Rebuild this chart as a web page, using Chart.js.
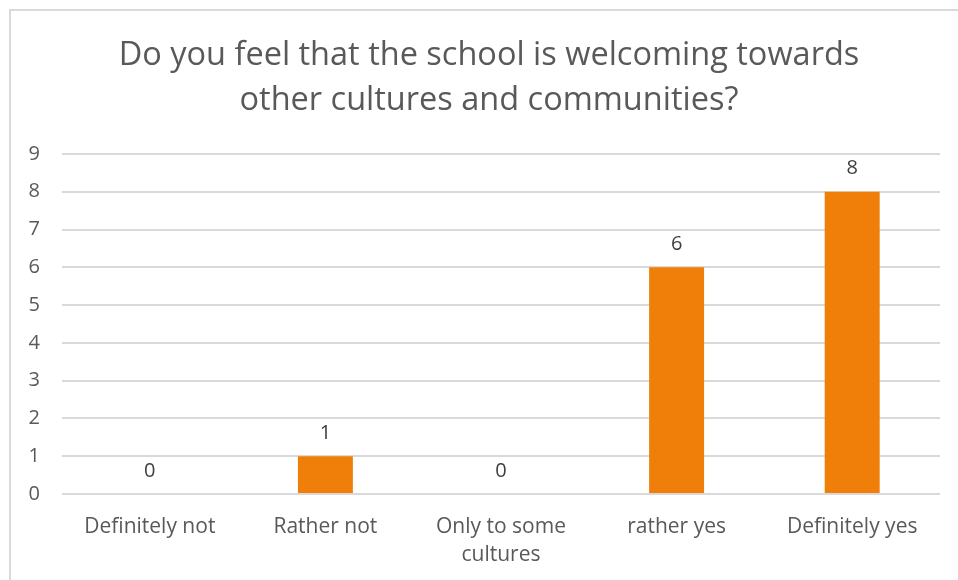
<!DOCTYPE html>
<html>
<head>
<meta charset="utf-8">
<script src="https://cdn.jsdelivr.net/npm/chart.js@4.4.1/dist/chart.umd.min.js"></script>
<style>
  html, body { margin: 0; padding: 0; background: #fff; }
  #wrap { position: relative; width: 958px; height: 580px; overflow: hidden; }
  #frame { position: absolute; left: 9px; top: 9px; width: 960px; height: 600px;
           border: 2px solid #d9d9d9; pointer-events: none; }
  canvas { display: block; }
</style>
</head>
<body>
<div id="wrap">
  <canvas id="grafico" width="958" height="580"></canvas>
  <div id="frame"></div>
</div>
<script>
// Datos de la encuesta
const categorias = ['Definitely not', 'Rather not', ['Only to some', 'cultures'], 'rather yes', 'Definitely yes'];
const respuestas = [0, 1, 0, 6, 8];
const tituloLineas = ['Do you feel that the school is welcoming towards', 'other cultures and communities?'];

const FUENTE = "'Open Sans', 'Noto Sans', sans-serif";

// Plugin para poner el valor encima de cada barra
const etiquetasValor = {
    id: 'etiquetasValor',
    afterDatasetsDraw(chart) {
        const ctx = chart.ctx;
        const meta = chart.getDatasetMeta(0);
        ctx.save();
        ctx.font = '20px ' + FUENTE;
        ctx.fillStyle = '#404040';
        ctx.textAlign = 'center';
        ctx.textBaseline = 'middle';
        meta.data.forEach((bar, i) => {
            ctx.fillText(respuestas[i], bar.x, bar.y - 23);
        });
        ctx.restore();
    }
};

// Titulo centrado en todo el marco (no solo en el area del grafico)
const tituloCentrado = {
    id: 'tituloCentrado',
    afterDraw(chart) {
        const ctx = chart.ctx;
        ctx.save();
        ctx.font = '32.5px ' + FUENTE;
        ctx.fillStyle = '#595959';
        ctx.textAlign = 'center';
        ctx.textBaseline = 'middle';
        tituloLineas.forEach((linea, i) => {
            ctx.fillText(linea, 489, 56 + i * 45);
        });
        ctx.restore();
    }
};

new Chart(document.getElementById('grafico').getContext('2d'), {
    type: 'bar',
    data: {
        labels: categorias,
        datasets: [{
            data: respuestas,
            backgroundColor: '#f07f09',
            categoryPercentage: 1,
            barPercentage: 0.313
        }]
    },
    options: {
        responsive: false,
        animation: false,
        layout: { padding: { left: 10, right: 18, top: 154, bottom: 13 } },
        plugins: {
            legend: { display: false },
            tooltip: { enabled: false },
            title: { display: false }
        },
        scales: {
            y: {
                min: 0,
                max: 9,
                ticks: { stepSize: 1, color: '#595959', padding: 22, font: { family: FUENTE, size: 20 } },
                grid: { color: '#d9d9d9', lineWidth: 2, drawTicks: false },
                border: { display: false },
                afterFit(scale) { scale.width = 52; }
            },
            x: {
                ticks: { color: '#595959', padding: 19, maxRotation: 0, font: { family: FUENTE, size: 21, lineHeight: 1.33 } },
                grid: { display: false, drawTicks: false },
                border: { display: false },
                afterFit(scale) { scale.height = 73; }
            }
        }
    },
    plugins: [etiquetasValor, tituloCentrado]
});
</script>
</body>
</html>
